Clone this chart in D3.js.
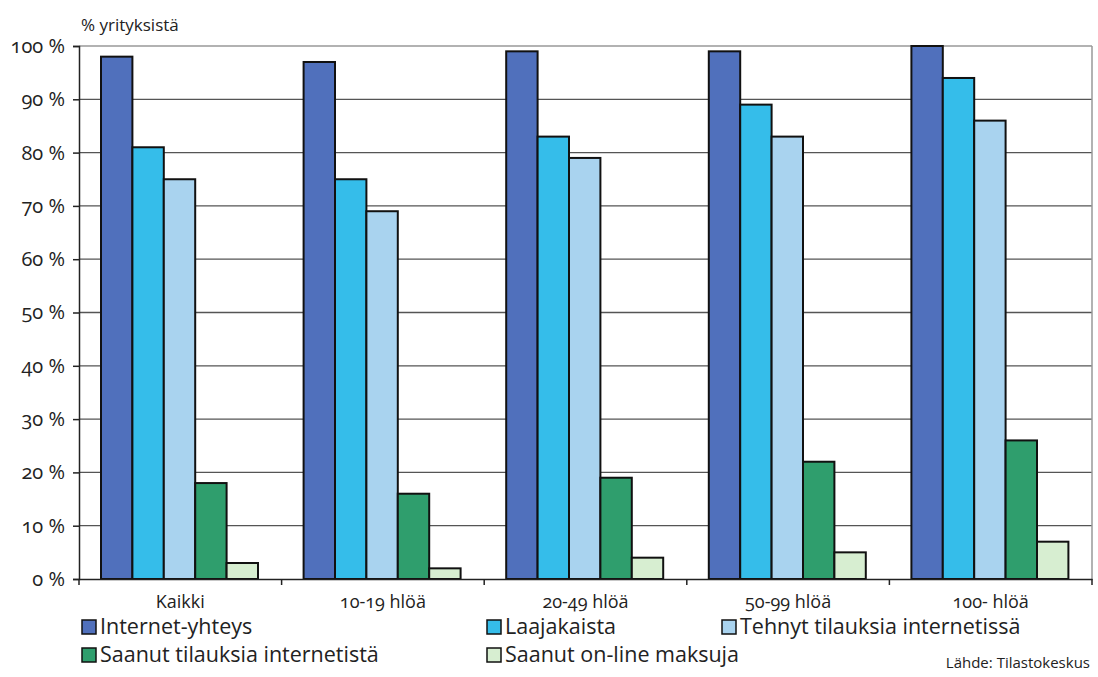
<!DOCTYPE html>
<html><head><meta charset="utf-8">
<script src="https://cdn.jsdelivr.net/npm/d3@7"></script>
<style>
body{margin:0;background:#fff;}
text{font-family:"Open Sans",Lato,sans-serif;font-feature-settings:"onum" 1;font-variant-numeric:oldstyle-nums;fill:#222;}
</style></head><body>
<svg id="c" width="1098" height="677"></svg>
<script>
const categories = ["Kaikki","10-19 hlöä","20-49 hlöä","50-99 hlöä","100- hlöä"];
const seriesNames = ["Internet-yhteys","Laajakaista","Tehnyt tilauksia internetissä","Saanut tilauksia internetistä","Saanut on-line maksuja"];
const internetYhteys = [98,97,99,99,100];
const laajakaista = [81,75,83,89,94];
const tehnytTilauksia = [75,69,79,83,86];
const saanutTilauksia = [18,16,19,22,26];
const saanutMaksuja = [3,2,4,5,7];
const yTicks = [0,10,20,30,40,50,60,70,80,90,100];
const colors = ["#5070BC","#35BDEA","#A9D3EF","#2F9E6D","#D7EED1"];
const seriesValues = [internetYhteys,laajakaista,tehnytTilauksia,saanutTilauksia,saanutMaksuja];

const svg = d3.select("#c");
const L=79,R=1092,T=46,B=579;
const x = d3.scaleBand().domain(categories).range([L,R]);
const y = d3.scaleLinear().domain([0,100]).range([B,T]);
const inner = d3.scaleBand().domain(seriesNames).range([22,22+157]);

// grid
svg.append("g").selectAll("line").data(yTicks.filter(d=>d>0)).join("line")
 .attr("x1",L).attr("x2",R).attr("y1",d=>y(d)).attr("y2",d=>y(d))
 .attr("stroke",d=>d===100?"#999":"#555").attr("stroke-width",1.3);
svg.append("line").attr("x1",R).attr("x2",R).attr("y1",T).attr("y2",B).attr("stroke","#999").attr("stroke-width",1.5);

// bars
const g = svg.append("g");
seriesValues.forEach((vals,si)=>{
  g.append("g").selectAll("rect").data(vals).join("rect")
   .attr("x",(d,i)=>x(categories[i])+inner(seriesNames[si]))
   .attr("y",d=>y(d)).attr("width",inner.bandwidth()).attr("height",d=>B-y(d))
   .attr("fill",colors[si]).attr("stroke","#111").attr("stroke-width",2);
});

// axes
const ya = svg.append("g").attr("transform",`translate(${L},0)`)
 .call(d3.axisLeft(y).tickValues(yTicks).tickFormat(d=>d+" %").tickSize(6).tickPadding(8));
ya.select(".domain").attr("stroke","#222").attr("stroke-width",1.5);
ya.selectAll(".tick line").attr("stroke","#222").attr("stroke-width",1.5);
ya.selectAll("text").attr("font-size",20).attr("fill","#222").attr("font-family",null);

const xa = svg.append("g").attr("transform",`translate(0,${B})`)
 .call(d3.axisBottom(x).tickSize(0).tickPadding(16));
xa.select(".domain").attr("stroke","#222").attr("stroke-width",1.5);
xa.selectAll("text").attr("font-size",18).attr("fill","#222").attr("font-family",null);
// category boundary ticks
svg.append("g").selectAll("line").data(d3.range(categories.length+1)).join("line")
 .attr("x1",i=>L+i*x.step()).attr("x2",i=>L+i*x.step()).attr("y1",B).attr("y2",B+6)
 .attr("stroke","#222").attr("stroke-width",1.5);

svg.append("text").attr("x",81).attr("y",31).attr("font-size",17).text("% yrityksistä");

// legend
const legPos = [[82,634],[487,634],[722,634],[82,662],[487,662]];
seriesNames.forEach((n,i)=>{
  const [lx,ly]=legPos[i];
  svg.append("rect").attr("x",lx).attr("y",ly-14).attr("width",14).attr("height",14)
   .attr("fill",colors[i]).attr("stroke","#111").attr("stroke-width",1.5);
  svg.append("text").attr("x",lx+18).attr("y",ly).attr("font-size",21.5).text(n);
});
svg.append("text").attr("x",1090).attr("y",668).attr("text-anchor","end").attr("font-size",15).text("Lähde: Tilastokeskus");
</script></body></html>
